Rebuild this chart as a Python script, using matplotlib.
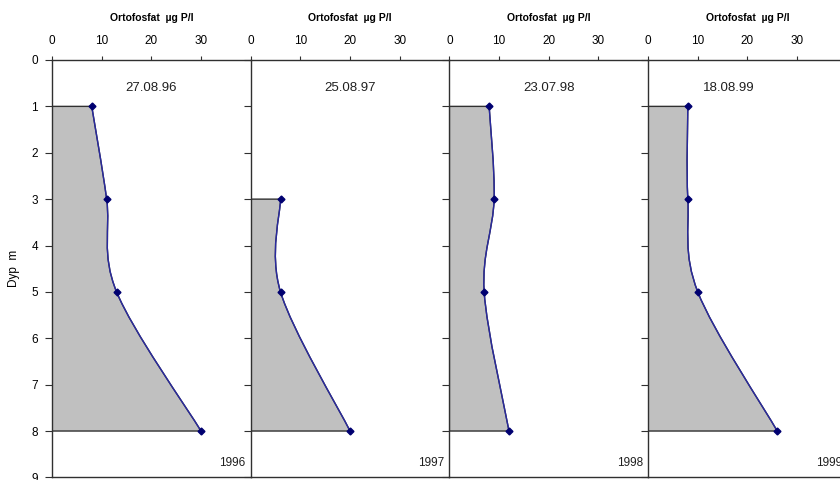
import numpy as np
import matplotlib
matplotlib.use("Agg")
import matplotlib.pyplot as plt
from matplotlib.path import Path
from matplotlib.patches import PathPatch

plt.rcParams['font.family'] = ['Liberation Sans', 'DejaVu Sans']

# data: orthophosphate (ug P/l) by depth (m)
dates = ['27.08.96', '25.08.97', '23.07.98', '18.08.99']
years = ['1996', '1997', '1998', '1999']
depth_96 = [1, 3, 5, 8]
po4_96 = [8, 11, 13, 30]
depth_97 = [3, 5, 8]
po4_97 = [6, 6, 20]
depth_98 = [1, 3, 5, 8]
po4_98 = [8, 9, 7, 12]
depth_99 = [1, 3, 5, 8]
po4_99 = [8, 8, 10, 26]
series = [(po4_96, depth_96), (po4_97, depth_97), (po4_98, depth_98), (po4_99, depth_99)]
x_ticks = [0, 10, 20, 30]
y_ticks = list(range(10))


def smooth_path(xs, ys):
    # Excel-like smoothed line: Catmull-Rom converted to cubic Bezier segments
    p = np.column_stack([xs, ys]).astype(float)
    verts = [p[0]]
    codes = [Path.MOVETO]
    n = len(p)
    for i in range(n - 1):
        p0 = p[i - 1] if i > 0 else p[i]
        p3 = p[i + 2] if i + 2 < n else p[i + 1]
        c1 = p[i] + (p[i + 1] - p0) / 6.0
        c2 = p[i + 1] - (p3 - p[i]) / 6.0
        verts += [c1, c2, p[i + 1]]
        codes += [Path.CURVE4] * 3
    return verts, codes


fig = plt.figure(figsize=(8.4, 4.8), dpi=100)
W, H = 840.0, 480.0
panel_w = 198.7
x_left = 52.0
y_top, y_bot = 60.0, 477.4
date_x = [20, 20, 20, 16.3]

for i, (xs, ys) in enumerate(series):
    left = (x_left + panel_w * i) / W
    ax = fig.add_axes([left, 1 - y_bot / H, panel_w / W, (y_bot - y_top) / H])
    ax.set_xlim(0, 40)
    ax.set_ylim(9, 0)

    verts, codes = smooth_path(xs, ys)
    # filled area between the axis and the profile
    fverts = [(0, ys[0])] + [tuple(v) for v in verts] + [(0, ys[-1]), (0, ys[0])]
    fcodes = [Path.MOVETO, Path.LINETO] + codes[1:] + [Path.LINETO, Path.CLOSEPOLY]
    ax.add_patch(PathPatch(Path(fverts, fcodes), facecolor='#c0c0c0',
                           edgecolor='#303030', lw=1.0, zorder=1))
    ax.add_patch(PathPatch(Path(verts, codes), facecolor='none',
                           edgecolor='#2a2aa0', lw=1.0, zorder=2))
    ax.plot(xs, ys, ls='none', marker='D', ms=3.5, color='#000070', zorder=3)

    ax.xaxis.tick_top()
    ax.set_xticks(x_ticks)
    ax.set_yticks(y_ticks)
    ax.tick_params(axis='x', direction='out', length=3, width=0.8, pad=6,
                   labelsize=8.5, color='#303030')
    ax.tick_params(axis='y', direction='out', length=5, width=0.8, pad=5,
                   labelsize=8.5, color='#303030')
    if i > 0:
        ax.set_yticklabels([])
    else:
        ax.set_ylabel('Dyp  m', fontsize=8.5, labelpad=8)
    ax.set_title('Ortofosfat  µg P/l', fontsize=7.5, fontweight='bold', pad=28)

    for side in ['left', 'top', 'bottom']:
        ax.spines[side].set_color('#303030')
        ax.spines[side].set_linewidth(1.0)
    ax.spines['right'].set_visible(False)
    ax.set_facecolor('none')

    ax.text(date_x[i], 0.6, dates[i], ha='center', va='center', fontsize=9.5,
            color='#202020')
    ax.text(39, 8.7, years[i], ha='right', va='center', fontsize=8.5, color='#202020')

fig.savefig('out.png', dpi=100)
